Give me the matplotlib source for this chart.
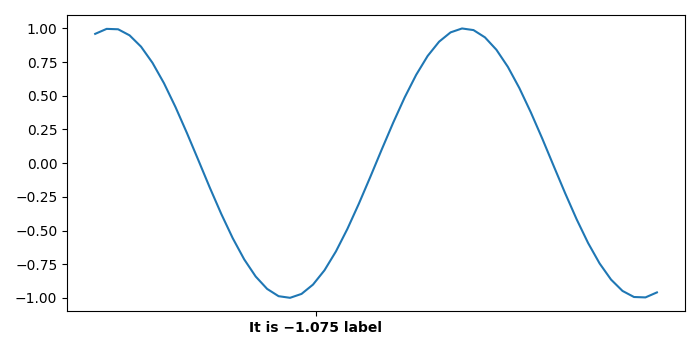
import numpy as np
import matplotlib
matplotlib.use("Agg")
import matplotlib.pyplot as plt

# values, evenly spaced from -5 to 5
y_vals = [0.959, 0.996, 0.993, 0.948, 0.864, 0.744, 0.593, 0.417, 0.224, 0.022,
          -0.182, -0.377, -0.557, -0.714, -0.841, -0.933, -0.987, -0.999, -0.970, -0.901,
          -0.795, -0.655, -0.488, -0.301, -0.102, 0.102, 0.301, 0.488, 0.655, 0.795,
          0.901, 0.970, 0.999, 0.987, 0.933, 0.841, 0.714, 0.557, 0.377, 0.182,
          -0.022, -0.224, -0.417, -0.593, -0.744, -0.864, -0.948, -0.993, -0.996, -0.959]
x_vals = np.linspace(-5, 5, len(y_vals))

tick_pos = [-1.075]
tick_labels = ["It is \u22121.075 label"]

fig, ax = plt.subplots(figsize=(7, 3.5), dpi=100)
ax.plot(x_vals, y_vals)
ax.set_xticks(tick_pos)
ax.set_xticklabels(tick_labels, fontweight="bold")
fig.tight_layout()
plt.savefig("out.png")
